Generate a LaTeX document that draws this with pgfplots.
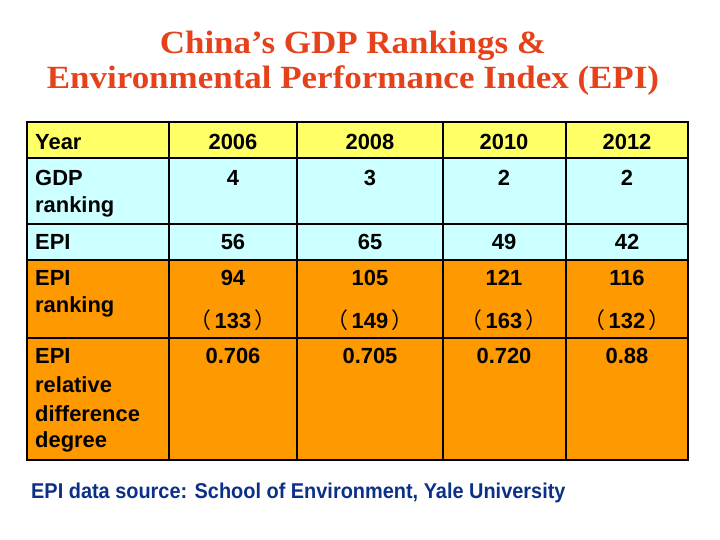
\documentclass[border=0pt]{standalone}
\usepackage{pgfplots}
\pgfplotsset{compat=1.18}
\usepackage{graphicx}
\usepackage{fontspec}
\setmainfont{Liberation Sans}
\newfontfamily\titlefont{Liberation Serif}
\newfontfamily\cjk{Noto Sans CJK SC}
\definecolor{titlered}{HTML}{E5421C}
\definecolor{hdryellow}{HTML}{FFFF66}
\definecolor{cellcyan}{HTML}{CCFFFF}
\definecolor{cellorange}{HTML}{FF9900}
\definecolor{srcblue}{HTML}{0C3088}
\begin{document}
\begin{tikzpicture}
\begin{axis}[
  width=720bp, height=540bp, scale only axis,
  xmin=0, xmax=720, ymin=0, ymax=540, y dir=reverse,
  hide axis, clip=false,
]
\path (rel axis cs:0,0) rectangle (rel axis cs:1,1);
% row fills
\addplot[draw=none, fill=hdryellow] coordinates {(27,122) (688,122) (688,158) (27,158)} -- cycle;
\addplot[draw=none, fill=cellcyan] coordinates {(27,158) (688,158) (688,260) (27,260)} -- cycle;
\addplot[draw=none, fill=cellorange] coordinates {(27,260) (688,260) (688,460) (27,460)} -- cycle;
% inner lines
\addplot[black, line width=1.2bp] coordinates {(27,158) (688,158)};
\addplot[black, line width=1.2bp] coordinates {(27,224) (688,224)};
\addplot[black, line width=1.2bp] coordinates {(27,260) (688,260)};
\addplot[black, line width=1.2bp] coordinates {(27,338) (688,338)};
\addplot[black, line width=1.2bp] coordinates {(169,122) (169,460)};
\addplot[black, line width=1.2bp] coordinates {(297,122) (297,460)};
\addplot[black, line width=1.2bp] coordinates {(443,122) (443,460)};
\addplot[black, line width=1.2bp] coordinates {(566,122) (566,460)};
% outer border
\addplot[black, line width=2.6bp] coordinates {(27,122) (688,122) (688,460) (27,460)} -- cycle;

% title
\node[titlered, font=\titlefont\bfseries\fontsize{32.5}{36}\selectfont, anchor=base] at (axis cs:353,54) {\scalebox{1.08}[1]{China’s GDP Rankings \&}};
\node[titlered, font=\titlefont\bfseries\fontsize{32.5}{36}\selectfont, anchor=base] at (axis cs:353,89) {\scalebox{1.08}[1]{Environmental Performance Index (EPI)}};

% row labels
\begin{scope}[every node/.style={font=\bfseries\fontsize{22}{26}\selectfont, anchor=west, inner sep=0pt}]
\node at (axis cs:35,142) {Year};
\node at (axis cs:35,178) {GDP};
\node at (axis cs:35,207) {ranking};
\node at (axis cs:35,242) {EPI};
\node at (axis cs:35,278) {EPI};
\node at (axis cs:35,307) {ranking};
\node at (axis cs:35,356) {EPI};
\node at (axis cs:35,385) {relative};
\node at (axis cs:35,414) {difference};
\node at (axis cs:35,442) {degree};
\end{scope}
% values
\begin{scope}[every node/.style={font=\bfseries\fontsize{22}{26}\selectfont, anchor=center, inner sep=0pt}]
\node at (axis cs:233,142) {2006};
\node at (axis cs:370,142) {2008};
\node at (axis cs:504,142) {2010};
\node at (axis cs:627,142) {2012};
\node at (axis cs:233,178) {4};
\node at (axis cs:370,178) {3};
\node at (axis cs:504,178) {2};
\node at (axis cs:627,178) {2};
\node at (axis cs:233,242) {56};
\node at (axis cs:370,242) {65};
\node at (axis cs:504,242) {49};
\node at (axis cs:627,242) {42};
\node at (axis cs:233,278) {94};
\node at (axis cs:370,278) {105};
\node at (axis cs:504,278) {121};
\node at (axis cs:627,278) {116};
\node at (axis cs:233,320) {{\cjk\mdseries （}\,133\,{\cjk\mdseries ）}};
\node at (axis cs:370,320) {{\cjk\mdseries （}\,149\,{\cjk\mdseries ）}};
\node at (axis cs:504,320) {{\cjk\mdseries （}\,163\,{\cjk\mdseries ）}};
\node at (axis cs:627,320) {{\cjk\mdseries （}\,132\,{\cjk\mdseries ）}};
\node at (axis cs:233,356) {0.706};
\node at (axis cs:370,356) {0.705};
\node at (axis cs:504,356) {0.720};
\node at (axis cs:627,356) {0.88};
\end{scope}
% source
\node[srcblue, anchor=base west, inner sep=0pt, font=\bfseries\fontsize{21.5}{24}\selectfont] at (axis cs:31,498) {\scalebox{0.93}[1]{EPI data source: School of Environment, Yale University}};
\end{axis}
\end{tikzpicture}
\end{document}
